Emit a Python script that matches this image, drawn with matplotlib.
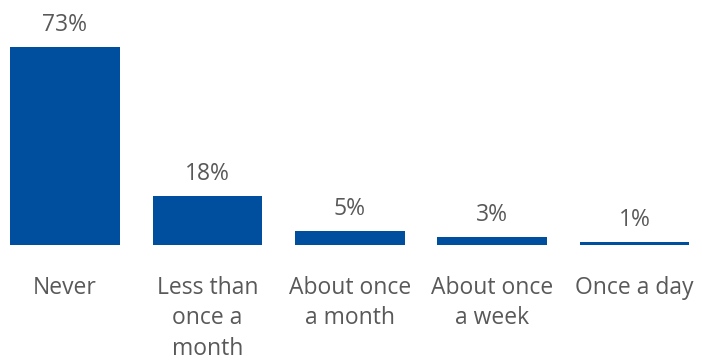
import matplotlib
matplotlib.use('Agg')
import matplotlib.pyplot as plt

categories = ['Never', 'Less than\nonce a\nmonth', 'About once\na month', 'About once\na week', 'Once a day']
values = [73, 18, 5, 3, 1]
labels = ['73%', '18%', '5%', '3%', '1%']

plt.rcParams['font.family'] = ['Open Sans', 'DejaVu Sans']

fig = plt.figure(figsize=(7.02, 3.61), dpi=100)
# baseline at y=245px, 73% top at y=47px
ax = fig.add_axes([0, (361 - 245) / 361, 1, 198 / 361])

x = range(len(values))
ax.bar(x, values, width=0.77, color='#004f9e')
ax.set_xlim(-0.456, 4.473)
ax.set_ylim(0, 73)

for i, v in enumerate(values):
    ax.annotate(labels[i], (i, v), xytext=(0, 16), textcoords='offset points',
                ha='center', va='center', fontsize=16.5, color='#595959')

ax.set_xticks(list(x))
ax.set_xticklabels(categories, fontsize=16.5, color='#595959', linespacing=1.36)
ax.tick_params(axis='x', length=0, pad=22)
ax.set_yticks([])
for s in ax.spines.values():
    s.set_visible(False)

fig.savefig('out.png', dpi=100)
